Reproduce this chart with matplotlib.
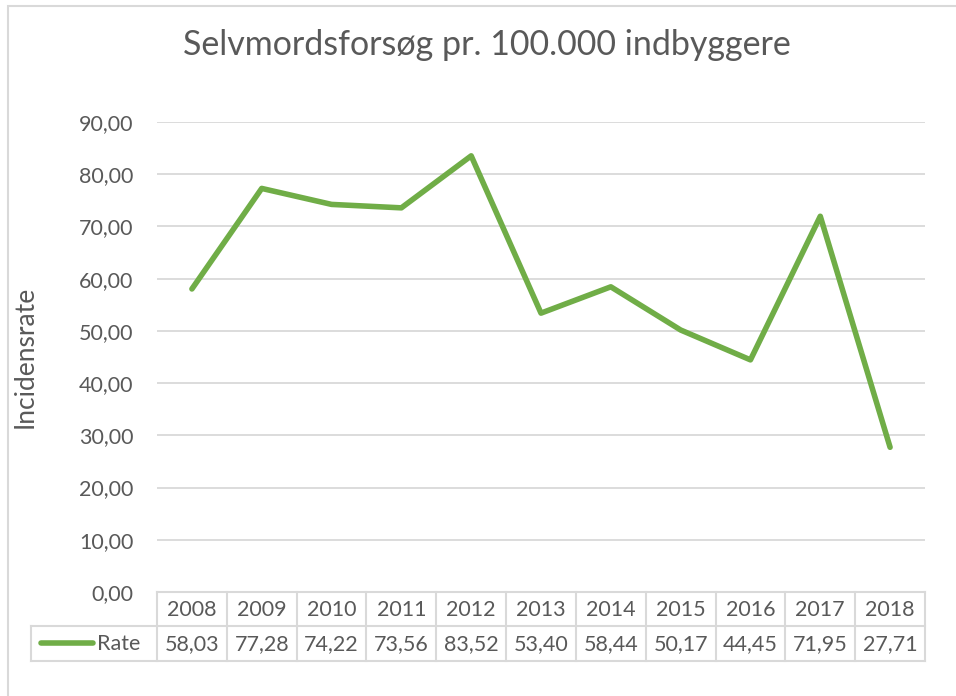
import matplotlib.pyplot as plt
from matplotlib.patches import Rectangle

years = ["2008", "2009", "2010", "2011", "2012", "2013", "2014", "2015", "2016", "2017", "2018"]
rate = [58.03, 77.28, 74.22, 73.56, 83.52, 53.40, 58.44, 50.17, 44.45, 71.95, 27.71]
yticks = [0, 10, 20, 30, 40, 50, 60, 70, 80, 90]

green = "#70AD47"
txt = "#595959"
grid = "#D9D9D9"

plt.rcParams['font.family'] = ['Lato', 'DejaVu Sans']

W, H = 956, 696
fig = plt.figure(figsize=(W / 100, H / 100), dpi=100)

def fx(px):
    return px / W

def fy(py):
    return 1 - py / H

# chart border (cut off on right and bottom)
fig.patches.append(Rectangle((fx(8), fy(720)), fx(1000), fy(6) - fy(720),
                             transform=fig.transFigure, fill=False,
                             edgecolor=grid, lw=1.5))

left, right, top, bottom = 157, 925, 122, 592
ax = fig.add_axes([fx(left), fy(bottom), fx(right - left), fy(top) - fy(bottom)])

x = list(range(len(years)))
ax.plot(x, rate, color=green, lw=4, solid_capstyle="round", solid_joinstyle="round")
ax.set_xlim(-0.5, len(years) - 0.5)
ax.set_ylim(0, 90)
ax.set_yticks(yticks)
ax.set_yticklabels([("%.2f" % v).replace(".", ",") for v in yticks], color=txt, fontsize=15.5)
ax.tick_params(axis="y", length=0, pad=17)
ax.set_xticks([])
ax.grid(axis="y", color=grid, lw=1.3)
for s in ax.spines.values():
    s.set_visible(False)
ax.set_axisbelow(True)

fig.text(fx(487), fy(45), "Selvmordsforsøg pr. 100.000 indbyggere", ha="center", va="center",
         fontsize=24.5, color=txt)
fig.text(fx(25), fy(357), "Incidensrate", rotation=90, ha="center", va="center",
         fontsize=19, color=txt)

# data table
colw = (right - left) / len(years)
r0, r1, r2 = 592, 626, 661
def hline(y, x0, x1):
    fig.add_artist(plt.Line2D([fx(x0), fx(x1)], [fy(y), fy(y)], color=grid, lw=1.5,
                              transform=fig.transFigure))
def vline(xp, y0, y1):
    fig.add_artist(plt.Line2D([fx(xp), fx(xp)], [fy(y0), fy(y1)], color=grid, lw=1.5,
                              transform=fig.transFigure))

hline(r0, left, right)
hline(r1, 31, right)
hline(r2, 31, right)
vline(31, r1, r2)
for i in range(len(years) + 1):
    vline(left + i * colw, r0, r2)

for i, (yr, v) in enumerate(zip(years, rate)):
    cx = left + (i + 0.5) * colw
    fig.text(fx(cx), fy((r0 + r1) / 2 + 1), yr, ha="center", va="center", fontsize=15.5, color=txt)
    fig.text(fx(cx), fy((r1 + r2) / 2 + 1), ("%.2f" % v).replace(".", ","), ha="center",
             va="center", fontsize=15.5, color=txt)

fig.add_artist(plt.Line2D([fx(41), fx(93)], [fy(643), fy(643)], color=green, lw=4,
                          solid_capstyle="round", transform=fig.transFigure))
fig.text(fx(97), fy(644), "Rate", ha="left", va="center", fontsize=15.5, color=txt)

plt.savefig("out.png", dpi=100)
